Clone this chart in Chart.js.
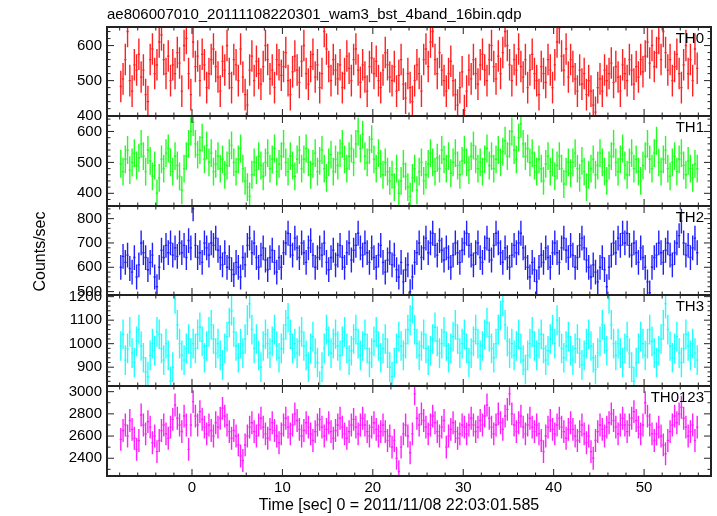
<!DOCTYPE html>
<html>
<head>
<meta charset="utf-8">
<script src="https://cdn.jsdelivr.net/npm/chart.js@4/dist/chart.umd.min.js"></script>
<style>
body { margin: 0; background: #fff; }
#wrap { position: relative; width: 717px; height: 516px; background: #fff; }
#wrap canvas { position: absolute; left: 0; top: 0; }
</style>
</head>
<body>
<div id="wrap"></div>
<script>
// light curves, counts/sec, 0.25 s bins starting at t = -7.875 s
const th0 = [
  483, 505, 560, 640, 500, 470, 545, 530,
  575, 510, 530, 460, 440, 560, 590, 520,
  545, 610, 630, 560, 520, 570, 500, 545,
  520, 580, 550, 470, 600, 620, 520, 460,
  610, 540, 570, 500, 575, 545, 480, 520,
  560, 590, 540, 510, 470, 555, 530, 600,
  520, 480, 560, 545, 500, 590, 510, 460,
  430, 530, 570, 500, 555, 520, 490, 540,
  600, 560, 505, 530, 480, 560, 545, 515,
  540, 580, 500, 460, 525, 570, 530, 495,
  555, 600, 520, 490, 540, 575, 510, 545,
  480, 520, 640, 590, 540, 500, 560, 530,
  505, 545, 480, 520, 570, 535, 500, 560,
  590, 530, 495, 545, 510, 470, 540, 565,
  520, 555, 500, 480, 530, 580, 545, 510,
  500, 540, 470, 515, 560, 490, 450, 520,
  480, 440, 500, 545, 520, 470, 560, 590,
  540, 610, 640, 560, 520, 580, 530, 500,
  470, 520, 555, 500, 460, 430, 480, 525,
  415, 470, 530, 505, 560, 520, 490, 545,
  575, 530, 500, 560, 600, 540, 505, 570,
  520, 580, 640, 600, 545, 500, 560, 530,
  590, 540, 510, 560, 480, 530, 575, 520,
  500, 460, 540, 520, 495, 560, 530, 480,
  545, 610, 650, 570, 530, 590, 510, 560,
  540, 505, 470, 530, 490, 520, 460, 500,
  470, 430, 410, 480, 505, 470, 530, 500,
  520, 550, 495, 540, 510, 470, 545, 520,
  500, 560, 530, 490, 540, 510, 560, 525,
  570, 610, 550, 600, 540, 580, 620, 560,
  640, 580, 530, 560, 500, 540, 575, 520,
  480, 545, 600, 520, 560, 500, 590, 535
];
const th1 = [
  495, 470, 510, 540, 475, 500, 530, 490,
  515, 560, 520, 470, 540, 505, 455, 490,
  400, 450, 510, 480, 530, 545, 500, 470,
  520, 490, 455, 410, 480, 520, 560, 600,
  630, 560, 525, 540, 580, 510, 555, 500,
  530, 470, 495, 520, 480, 510, 460, 490,
  530, 555, 500, 470, 510, 545, 480, 440,
  420, 390, 460, 500, 475, 520, 490, 455,
  500, 530, 480, 510, 545, 470, 495, 520,
  560, 500, 470, 520, 490, 455, 510, 540,
  480, 510, 545, 500, 460, 495, 530, 470,
  505, 540, 480, 450, 500, 525, 470, 510,
  490, 530, 560, 510, 480, 520, 545, 500,
  560, 600, 545, 590, 520, 500, 540, 575,
  510, 480, 530, 495, 460, 500, 470, 440,
  460, 420, 480, 400, 440, 495, 455, 420,
  390, 450, 480, 410, 470, 500, 440, 460,
  495, 530, 500, 470, 515, 480, 540, 510,
  480, 520, 465, 500, 530, 490, 460, 505,
  540, 500, 475, 520, 555, 510, 480, 500,
  470, 510, 545, 490, 520, 480, 510, 540,
  500, 535, 570, 520, 560, 600, 540, 510,
  580, 625, 560, 520, 545, 500, 530, 490,
  470, 510, 480, 440, 495, 520, 470, 500,
  455, 490, 520, 480, 430, 470, 500, 465,
  500, 530, 480, 450, 505, 470, 420, 460,
  480, 510, 460, 490, 530, 500, 470, 440,
  490, 520, 560, 500, 470, 510, 545, 490,
  460, 500, 530, 480, 510, 470, 440, 490,
  520, 560, 510, 480, 530, 570, 500, 470,
  510, 540, 480, 455, 500, 520, 470, 510,
  530, 490, 460, 505, 480, 450, 495, 480
];
const th2 = [
  600, 645, 620, 650, 595, 580, 640, 560,
  610, 700, 660, 640, 590, 620, 650, 560,
  520, 600, 670, 640, 690, 660, 700, 650,
  680, 645, 700, 660, 690, 640, 710, 680,
  840, 690, 640, 660, 620, 700, 680, 650,
  700, 690, 720, 670, 640, 610, 660, 600,
  640, 590, 570, 620, 600, 560, 640, 610,
  690, 720, 660, 700, 640, 600, 650, 680,
  630, 590, 640, 670, 620, 580, 640, 600,
  660, 700, 740, 690, 650, 720, 680, 640,
  700, 660, 620, 680, 710, 650, 600, 640,
  680, 650, 700, 620, 590, 640, 670, 610,
  650, 690, 640, 600, 660, 700, 630, 670,
  690, 740, 680, 650, 700, 660, 620, 680,
  640, 600, 650, 690, 620, 580, 630, 660,
  610, 650, 590, 560, 620, 540, 590, 610,
  500, 560, 620, 660, 700, 640, 680, 720,
  660, 700, 740, 690, 650, 710, 670, 630,
  680, 640, 600, 650, 700, 660, 620, 670,
  700, 740, 690, 650, 610, 660, 700, 640,
  620, 680, 720, 670, 630, 690, 740, 700,
  660, 620, 680, 640, 600, 650, 690, 660,
  700, 740, 680, 640, 600, 560, 620, 590,
  540, 600, 650, 620, 680, 640, 600, 660,
  700, 660, 620, 680, 720, 670, 640, 690,
  650, 600, 640, 690, 720, 680, 630, 600,
  560, 610, 580, 540, 600, 640, 590, 520,
  600, 650, 700, 660, 720, 690, 740, 700,
  740, 690, 650, 700, 660, 620, 680, 640,
  600, 540, 495, 600, 640, 650, 700, 660,
  620, 670, 700, 650, 610, 660, 700, 730,
  790, 700, 650, 690, 640, 680, 720, 660
];
const th3 = [
  990, 1040, 930, 980, 1050, 960, 920, 1010,
  1060, 990, 940, 880, 860, 950, 1000, 970,
  1050, 1040, 980, 930, 1000, 950, 840, 900,
  1190, 1080, 1000, 950, 930, 980, 1020, 960,
  1000, 980, 1040, 1070, 1010, 940, 990, 1050,
  1080, 1020, 960, 1000, 950, 910, 980, 1030,
  1090, 1140, 1050, 990, 940, 1000, 960, 1020,
  1100, 1170, 1060, 980, 1020, 950, 900, 990,
  1040, 1000, 960, 1010, 1060, 990, 940, 980,
  1020, 1080, 1110, 1040, 980, 1000, 960, 1010,
  1050, 990, 950, 900, 980, 1030, 960, 920,
  820, 900, 980, 1060, 1010, 960, 1000, 1040,
  990, 950, 1010, 1050, 980, 930, 970, 1020,
  1060, 1000, 950, 990, 1040, 980, 920, 960,
  1010, 1050, 990, 940, 980, 1020, 960, 900,
  860, 920, 980, 1030, 990, 950, 1000, 1060,
  1100, 1150, 1060, 1000, 950, 990, 1040, 980,
  930, 970, 1020, 1070, 1010, 960, 1000, 1050,
  990, 940, 980, 1030, 1080, 1020, 960, 1000,
  1040, 980, 920, 960, 1010, 1060, 1000, 950,
  990, 1040, 1090, 1030, 980, 940, 1000, 1060,
  1120, 1180, 1080, 1010, 960, 1000, 950, 990,
  1040, 980, 930, 890, 950, 1000, 1050, 990,
  950, 1000, 1040, 980, 930, 970, 1020, 1060,
  1000, 1100, 1050, 980, 940, 990, 1030, 970,
  930, 980, 1020, 960, 910, 950, 1000, 1040,
  990, 940, 890, 960, 1010, 1080, 1020, 970,
  1190, 1080, 1000, 950, 1000, 960, 920, 980,
  1030, 960, 900, 840, 920, 980, 1030, 1000,
  950, 1000, 1060, 1010, 960, 920, 970, 1020,
  1080, 1170, 1060, 990, 940, 980, 1030, 960,
  920, 980, 1040, 990, 950, 1000, 960, 930
];
const th0123 = [
  2570, 2650, 2700, 2600, 2740, 2660, 2580, 2480,
  2560, 2790, 2700, 2620, 2730, 2680, 2540, 2600,
  2460, 2560, 2650, 2700, 2620, 2580, 2680, 2750,
  2880, 2760, 2700, 2640, 2780, 2700, 2480, 2700,
  2910, 2780, 2700, 2820, 2750, 2680, 2620, 2700,
  2650, 2600, 2720, 2680, 2760, 2850, 2780, 2700,
  2640, 2580, 2650, 2600, 2520, 2420, 2380, 2520,
  2600, 2680, 2720, 2640, 2600, 2700, 2760, 2680,
  2620, 2580, 2660, 2720, 2650, 2600, 2540, 2620,
  2700, 2760, 2680, 2620, 2700, 2800, 2740, 2660,
  2600, 2650, 2720, 2680, 2620, 2560, 2640, 2700,
  2750, 2680, 2600, 2660, 2720, 2640, 2580, 2650,
  2700, 2760, 2680, 2620, 2580, 2640, 2700, 2750,
  2680, 2620, 2700, 2760, 2700, 2640, 2600, 2680,
  2720, 2660, 2600, 2640, 2700, 2640, 2560, 2600,
  2500, 2560, 2400, 2280, 2500, 2620, 2700, 2600,
  2450, 2620, 2980, 2760, 2700, 2800, 2740, 2680,
  2620, 2700, 2780, 2720, 2640, 2600, 2680, 2740,
  2500, 2600, 2660, 2720, 2640, 2580, 2620, 2700,
  2680, 2620, 2700, 2760, 2700, 2640, 2680, 2740,
  2700, 2780, 2880, 2760, 2680, 2620, 2700, 2800,
  2720, 2660, 2780, 2840, 2980, 2800, 2700, 2640,
  2720, 2780, 2680, 2620, 2700, 2760, 2680, 2640,
  2700, 2620, 2560, 2460, 2600, 2680, 2740, 2660,
  2620, 2700, 2760, 2680, 2640, 2580, 2660, 2720,
  2660, 2600, 2560, 2640, 2700, 2620, 2540, 2600,
  2460, 2400, 2560, 2640, 2700, 2660, 2600, 2680,
  2720, 2800, 2740, 2680, 2620, 2700, 2760, 2700,
  2640, 2700, 2760, 2820, 2740, 2680, 2620, 2700,
  2900, 2780, 2700, 2620, 2560, 2620, 2680, 2600,
  2520, 2440, 2560, 2640, 2700, 2780, 2720, 2800,
  2860, 2760, 2680, 2600, 2640, 2700, 2560, 2680
];

const series = [th0, th1, th2, th3, th0123];
const bandNames = ['TH0', 'TH1', 'TH2', 'TH3', 'TH0123'];
const bandColors = ['#ff2020', '#20ff20', '#2020ff', '#20ffff', '#ff20ff'];
const yErr = [45, 45, 51, 63, 103];
const yMin = [399, 359, 486, 820, 2240];
const yMax = [653, 650, 852, 1207, 3051];
const yMajor = [100, 100, 100, 100, 200];
const yMinor = [20, 20, 20, 20, 100];
const xTickLabels = [0, 10, 20, 30, 40, 50];
const tStart = -7.875;
const binSize = 0.25;
const xMin = -9.4, xMax = 57.4;

const plotTitle = 'ae806007010_20111108220301_wam3_bst_4band_16bin.qdp';
const xTitle = 'Time [sec] 0 = 2011/11/08 22:03:01.585';
const yTitle = 'Counts/sec';

// panel edges in page pixels
const W = 717, H = 516;
const plotLeft = 107, plotRight = 711;
const edges = [27, 116, 206, 295, 386, 476];
const FAMILY = '"Liberation Sans", Arial, Helvetica, sans-serif';

// draws error bars, frame, ticks and labels for one qdp panel
const qdpPanel = {
  id: 'qdpPanel',
  afterDatasetsDraw(chart, args, opts) {
    const ctx = chart.ctx;
    const a = chart.chartArea;
    const xs = chart.scales.x;
    const ys = chart.scales.y;
    const meta = chart.getDatasetMeta(0);
    const pts = chart.data.datasets[0].data;

    ctx.save();
    ctx.beginPath();
    ctx.rect(a.left, a.top, a.right - a.left, a.bottom - a.top);
    ctx.clip();
    ctx.strokeStyle = opts.color;
    ctx.lineWidth = 1.4;
    ctx.beginPath();
    meta.data.forEach((el, i) => {
      const p = pts[i];
      ctx.moveTo(el.x, ys.getPixelForValue(p.y - opts.err));
      ctx.lineTo(el.x, ys.getPixelForValue(p.y + opts.err));
      ctx.moveTo(xs.getPixelForValue(p.x - binSize / 2), el.y);
      ctx.lineTo(xs.getPixelForValue(p.x + binSize / 2), el.y);
    });
    ctx.stroke();
    ctx.restore();

    ctx.save();
    ctx.strokeStyle = '#222';
    ctx.lineWidth = 1;
    ctx.beginPath();
    // x ticks on top and bottom edge
    for (let t = -8; t <= 56; t += 2) {
      const px = xs.getPixelForValue(t);
      const len = t % 10 === 0 ? 7 : 3.5;
      ctx.moveTo(px, a.top); ctx.lineTo(px, a.top + len);
      ctx.moveTo(px, a.bottom); ctx.lineTo(px, a.bottom - len);
    }
    // y ticks on left and right edge
    for (let v = Math.ceil(opts.min / opts.minor) * opts.minor; v <= opts.max; v += opts.minor) {
      const py = ys.getPixelForValue(v);
      const len = v % opts.major === 0 ? 7 : 3.5;
      ctx.moveTo(a.left, py); ctx.lineTo(a.left + len, py);
      ctx.moveTo(a.right, py); ctx.lineTo(a.right - len, py);
    }
    ctx.stroke();
    ctx.lineWidth = 2;
    ctx.strokeRect(a.left, a.top, a.right - a.left, a.bottom - a.top);

    ctx.fillStyle = '#000';
    ctx.font = '15px ' + FAMILY;
    ctx.textAlign = 'right';
    ctx.textBaseline = 'middle';
    for (let v = Math.ceil(opts.min / opts.major) * opts.major; v <= opts.max; v += opts.major) {
      ctx.fillText(String(v), a.left - 5, ys.getPixelForValue(v));
    }
    ctx.textBaseline = 'alphabetic';
    ctx.fillText(opts.label, a.right - 7, a.top + 16);

    if (opts.bottom) {
      ctx.textAlign = 'center';
      ctx.textBaseline = 'middle';
      xTickLabels.forEach(t => ctx.fillText(String(t), xs.getPixelForValue(t), a.bottom + 12));
      ctx.font = '16px ' + FAMILY;
      ctx.fillText(xTitle, (a.left + a.right) / 2 - 10, a.bottom + 30);
    }
    if (opts.top) {
      ctx.textAlign = 'left';
      ctx.textBaseline = 'middle';
      ctx.font = '15px ' + FAMILY;
      ctx.fillText(plotTitle, a.left, 15);
      ctx.save();
      ctx.font = '16px ' + FAMILY;
      ctx.translate(41, (edges[0] + edges[5]) / 2);
      ctx.rotate(-Math.PI / 2);
      ctx.textAlign = 'center';
      ctx.fillText(yTitle, 0, 0);
      ctx.restore();
    }
    ctx.restore();
  }
};

const wrap = document.getElementById('wrap');
series.forEach((vals, k) => {
  const canvas = document.createElement('canvas');
  canvas.width = W;
  canvas.height = H;
  wrap.appendChild(canvas);
  const pts = vals.map((v, i) => ({ x: tStart + i * binSize, y: v }));
  new Chart(canvas.getContext('2d'), {
    type: 'scatter',
    data: {
      datasets: [{
        label: bandNames[k],
        data: pts,
        pointRadius: 0,
        showLine: false,
        borderColor: bandColors[k]
      }]
    },
    options: {
      responsive: false,
      animation: false,
      events: [],
      layout: {
        padding: { left: plotLeft, right: W - plotRight, top: edges[k], bottom: H - edges[k + 1] }
      },
      scales: {
        x: { display: false, min: xMin, max: xMax },
        y: { display: false, min: yMin[k], max: yMax[k] }
      },
      plugins: {
        legend: { display: false },
        tooltip: { enabled: false },
        qdpPanel: {
          color: bandColors[k],
          err: yErr[k],
          label: bandNames[k],
          min: yMin[k], max: yMax[k],
          major: yMajor[k], minor: yMinor[k],
          top: k === 0,
          bottom: k === series.length - 1
        }
      }
    },
    plugins: [qdpPanel]
  });
});
</script>
</body>
</html>
